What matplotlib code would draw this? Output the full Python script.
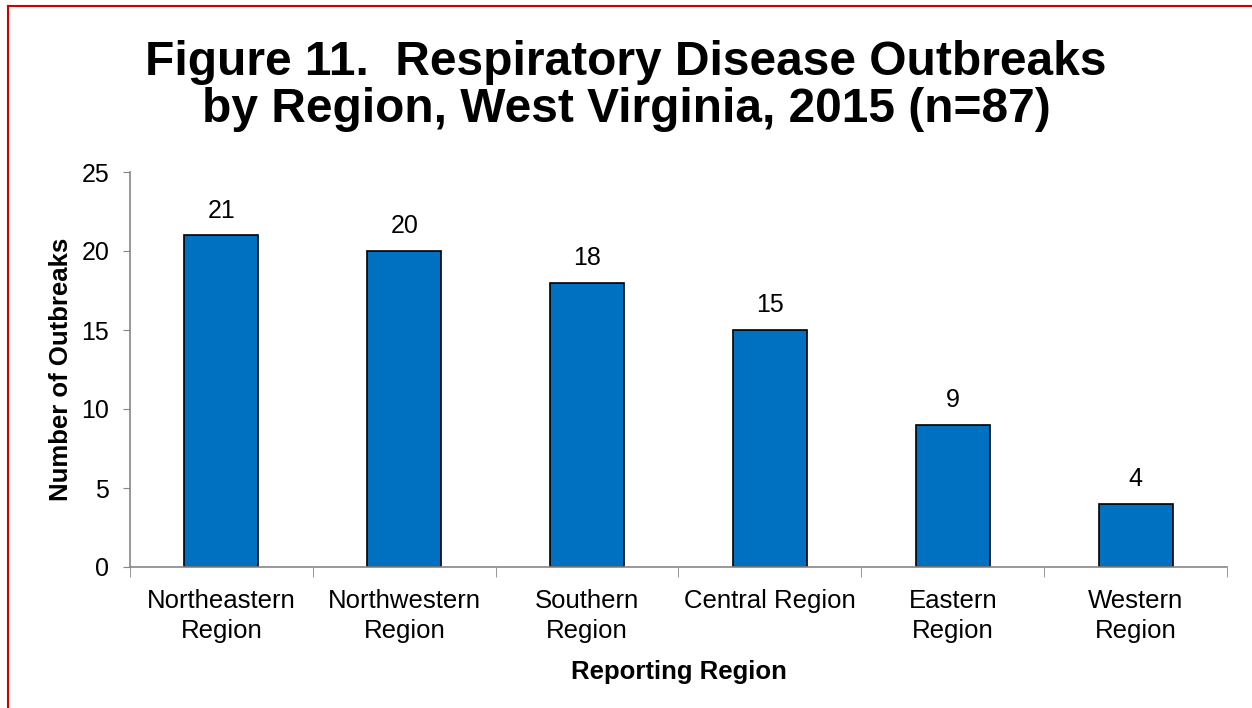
import numpy as np
import matplotlib.pyplot as plt
from matplotlib.lines import Line2D

regions = ['Northeastern\nRegion', 'Northwestern\nRegion', 'Southern\nRegion',
           'Central Region', 'Eastern\nRegion', 'Western\nRegion']
outbreaks = [21, 20, 18, 15, 9, 4]

plt.rcParams['font.family'] = ['Liberation Sans', 'DejaVu Sans']

fig = plt.figure(figsize=(12.52, 7.08), dpi=100)
ax = fig.add_axes([130 / 1252, 1 - 567 / 708, 1097 / 1252, 395 / 708])

x = np.arange(len(regions))
bars = ax.bar(x, outbreaks, width=0.405, color='#0070C0', edgecolor='black', linewidth=1.2)
for xi, v in zip(x, outbreaks):
    ax.text(xi, v + 0.8, str(v), ha='center', va='bottom', fontsize=18)

ax.set_xlim(-0.5, len(regions) - 0.5)
ax.set_ylim(0, 25)
ax.set_yticks(range(0, 26, 5))
ax.tick_params(axis='y', labelsize=18, length=5, color='#868686', pad=10)

# category labels centred, tick marks at the boundaries
ax.set_xticks(x)
ax.set_xticklabels(regions, fontsize=18.5, linespacing=1.32)
ax.tick_params(axis='x', which='major', length=0, pad=16)
ax.set_xticks(np.arange(-0.5, len(regions)), minor=True)
ax.tick_params(axis='x', which='minor', length=7, color='#868686')

for side in ['top', 'right']:
    ax.spines[side].set_visible(False)
for side in ['left', 'bottom']:
    ax.spines[side].set_color('#868686')
    ax.spines[side].set_linewidth(1.2)

ax.set_ylabel('Number of Outbreaks', fontsize=18.5, fontweight='bold', labelpad=6)
ax.set_xlabel('Reporting Region', fontsize=18.5, fontweight='bold', labelpad=12)

fig.text(0.5, 1 - 86 / 708, 'Figure 11.  Respiratory Disease Outbreaks\nby Region, West Virginia, 2015 (n=87)',
         ha='center', va='center', fontsize=34.5, fontweight='bold', linespacing=1.04)

# red frame (top and left edges visible)
fig.add_artist(Line2D([8 / 1252, 1], [1 - 6 / 708, 1 - 6 / 708], transform=fig.transFigure,
                      color='#D00000', linewidth=1.5))
fig.add_artist(Line2D([8 / 1252, 8 / 1252], [0, 1 - 6 / 708], transform=fig.transFigure,
                      color='#D00000', linewidth=1.5))

fig.savefig('out.png', dpi=100)
